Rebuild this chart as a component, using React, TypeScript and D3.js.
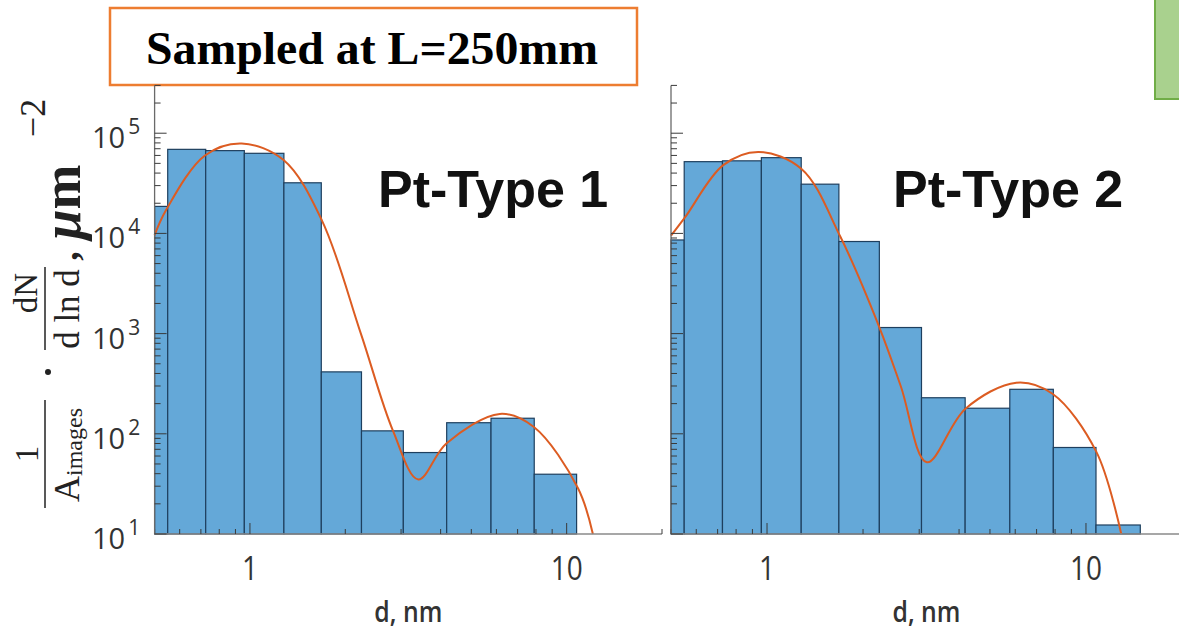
import React from "react";
import * as d3 from "d3";

// bin edges shared by both histograms (nm)
const binEdges = [0.41, 0.55, 0.725, 0.96, 1.28, 1.68, 2.25, 3.05, 4.18, 5.77, 7.9, 10.75, 14.8];

// histogram heights, 1/A * dN/dlnd (um^-2)
const type1Counts = [1.86e4, 6.9e4, 6.7e4, 6.3e4, 3.2e4, 415, 107, 65, 129, 143, 39.5];
const type2Counts = [8.6e3, 5.2e4, 5.3e4, 5.7e4, 3.1e4, 8.3e3, 1150, 229, 180, 278, 73, 12.3];

// fitted curve
const fit1D = [0.5, 0.543, 0.721, 0.942, 1.277, 1.687, 2.24, 2.83, 3.4, 4.17, 6.15, 7.88, 10.86, 12.1];
const fit1V = [9.6e3, 1.7e4, 6.0e4, 7.9e4, 5.4e4, 1.35e4, 1000, 107, 35, 80, 158, 117, 28.6, 10];
const fit2D = [0.5, 0.556, 0.729, 0.941, 1.283, 1.697, 2.247, 2.63, 3.17, 4.19, 6.05, 7.85, 10.78, 12.9];
const fit2V = [9.5e3, 1.48e4, 4.8e4, 6.5e4, 4.4e4, 9.3e3, 1170, 295, 52, 178, 324, 251, 66, 10];

const panelNames = ["Pt-Type 1", "Pt-Type 2"];
const xTickLabels = ["1", "10"];
const yTickExp = ["1", "2", "3", "4", "5"];
const title = "Sampled at L=250mm";
const xTitle = "d, nm";

const W = 1179;
const H = 634;
const SANS = "'Open Sans', 'Noto Sans', sans-serif";
const SERIF = "'Liberation Serif', 'DejaVu Serif', serif";

const y = d3.scaleLog().domain([10, 3e5]).range([534, 85.4]);

function Panel({ counts, fitD, fitV, name, range, labelX }: any) {
  const x = d3.scaleLog().domain([0.5, 20]).range(range);
  const x0 = range[0];
  const base = y(10);

  const line = d3
    .line<number>()
    .x((d) => x(d))
    .y((_, i) => y(fitV[i]))
    .curve(d3.curveCatmullRom.alpha(0.5));

  const xt = x.ticks();
  const yt = y.ticks();
  const isMajor = (v: number) => Math.abs(Math.log10(v) - Math.round(Math.log10(v))) < 1e-6;

  return (
    <g>
      {counts.map((c: number, i: number) => {
        const a = Math.max(x(binEdges[i]), x0);
        const b = x(binEdges[i + 1]);
        return (
          <rect key={i} x={a} y={y(c)} width={b - a} height={base - y(c)}
            fill="#64A8D8" stroke="#1E3F5E" strokeWidth={1.2} />
        );
      })}
      <path d={line(fitD) || ""} fill="none" stroke="#DC5C22" strokeWidth={2} />

      {/* x axis */}
      <line x1={x0} x2={range[1]} y1={base} y2={base} stroke="#8a8a8a" strokeWidth={1.3} />
      {xt.map((t, i) => (
        <line key={i} x1={x(t)} x2={x(t)} y1={base} y2={base - (isMajor(t) ? 11 : 5)}
          stroke="#3a3a3a" strokeWidth={1} />
      ))}
      {xTickLabels.map((l) => (
        <text key={l} x={x(+l)} y={580} textAnchor="middle" fontFamily={SANS}
          fontSize={33} fill="#333" textLength={l.length * 16} lengthAdjust="spacingAndGlyphs">{l}</text>
      ))}
      <text x={(x0 + x(20)) / 2} y={622} textAnchor="middle" fontFamily={SANS}
        fontSize={28} fontWeight={600} fill="#333" textLength={68} lengthAdjust="spacingAndGlyphs">{xTitle}</text>

      {/* y axis */}
      <line x1={x0} x2={x0} y1={y(3e5)} y2={base} stroke="#6a6a6a" strokeWidth={1.3} />
      {yt.map((t, i) => (
        <line key={i} x1={x0} x2={x0 + (isMajor(t) ? 12 : 6)} y1={y(t)} y2={y(t)}
          stroke="#3a3a3a" strokeWidth={1} />
      ))}

      <text x={labelX} y={207} fontFamily="'Liberation Sans', Arial, sans-serif"
        fontWeight="bold" fontSize={52} fill="#111">{name}</text>
    </g>
  );
}

export default function App() {
  return (
    <svg width={W} height={H} style={{ position: "absolute", left: 0, top: 0, background: "#fff" }}>
      <rect x={0} y={0} width={W} height={H} fill="#fff" />

      <rect x={110} y={8} width={527} height={77} fill="#fff" stroke="#ED7D31" strokeWidth={2.5} />
      <text x={372} y={64} textAnchor="middle" fontFamily={SERIF} fontWeight="bold"
        fontSize={46} fill="#000" textLength={452} lengthAdjust="spacingAndGlyphs">{title}</text>

      <rect x={1155} y={-2} width={30} height={101} fill="#A9D18E" stroke="#70AD47" strokeWidth={2} />

      <Panel counts={type1Counts} fitD={fit1D} fitV={fit1V} name={panelNames[0]} range={[154.6, 662]} labelX={378} />
      <Panel counts={type2Counts} fitD={fit2D} fitV={fit2V} name={panelNames[1]} range={[671, 1182]} labelX={893} />

      {/* y tick labels, left panel only */}
      {yTickExp.map((e) => (
        <text key={e} x={92} y={y(Math.pow(10, +e)) + 15} fontFamily={SANS} fill="#333" fontSize={29}>
          10<tspan fontSize={21} dx={3} dy={-14}>{e}</tspan>
        </text>
      ))}

      {/* y axis label */}
      <g fontFamily={SERIF} fill="#222">
        <text transform="translate(38,454) rotate(-90)" textAnchor="middle" fontSize={33}>1</text>
        <line x1={45} x2={45} y1={400} y2={508} stroke="#222" strokeWidth={1.5} />
        <text transform="translate(79,455) rotate(-90)" textAnchor="middle" fontSize={36}>
          A<tspan fontSize={24} dy={3}>images</tspan>
        </text>
        <circle cx={48} cy={372} r={3} fill="#222" />
        <text transform="translate(37,293) rotate(-90)" textAnchor="middle" fontSize={33}>dN</text>
        <line x1={45} x2={45} y1={267} y2={350} stroke="#222" strokeWidth={1.5} />
        <text transform="translate(79,309) rotate(-90)" textAnchor="middle" fontSize={35}>d ln d</text>
        <text transform="translate(78,256) rotate(-90)" textAnchor="middle" fontSize={38} fontWeight="bold">,</text>
        <text transform="translate(80,202) rotate(-90)" textAnchor="middle" fontSize={54} fontWeight="bold">
          <tspan fontStyle="italic">μ</tspan>m
        </text>
        <text transform="translate(45,118) rotate(-90)" textAnchor="middle" fontSize={36}>−2</text>
      </g>
    </svg>
  );
}
